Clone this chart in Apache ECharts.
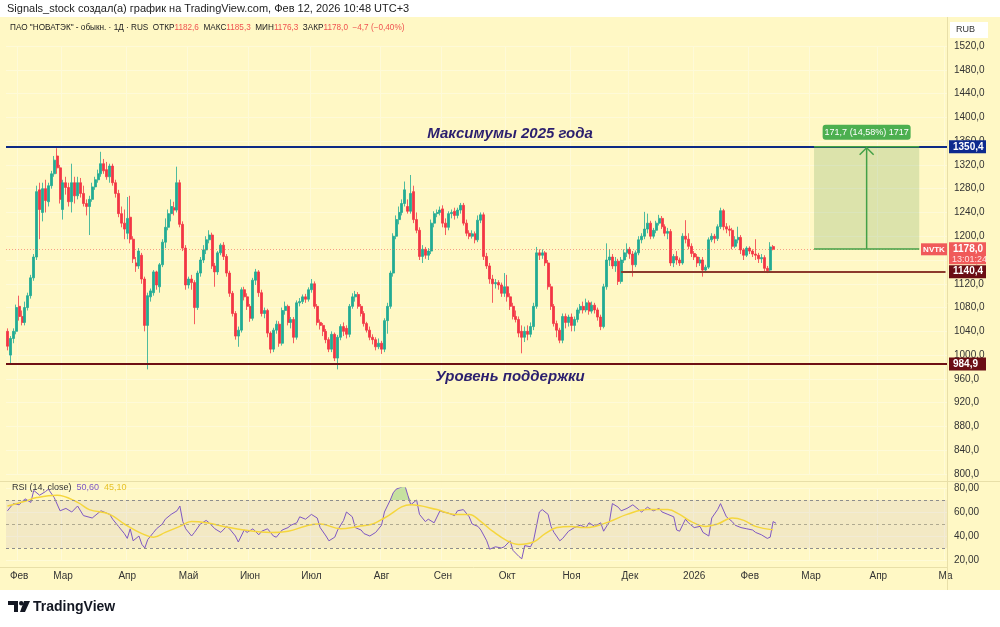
<!DOCTYPE html>
<html><head><meta charset="utf-8">
<script src="https://cdn.jsdelivr.net/npm/echarts@6/dist/echarts.min.js"></script>
<style>html,body{margin:0;padding:0;background:#fff;}#c{width:1000px;height:627px;}</style>
</head><body><div id="c"></div>
<script>
// ---- DATA ----
// daily candles [open, close, low, high], Jan-end 2025 .. Feb 12 2026
const candles = [
[1040,1015,1008,1045],[1000,1028,986,1032],[1028,1040,1020,1045],[1040,1080,1035,1085],[1082,1065,1058,1100],
[1065,1055,1050,1075],[1055,1080,1050,1090],[1080,1100,1075,1105],[1100,1130,1095,1135],[1130,1165,1125,1170],
[1165,1275,1160,1285],[1278,1245,1195,1290],[1240,1280,1225,1290],[1280,1260,1240,1295],[1258,1285,1250,1290],
[1285,1305,1280,1310],[1305,1328,1300,1335],[1335,1315,1305,1348],[1315,1262,1255,1320],[1245,1290,1228,1295],
[1290,1282,1270,1300],[1282,1258,1250,1290],[1258,1290,1240,1322],[1290,1268,1255,1300],[1268,1290,1262,1300],
[1290,1272,1265,1298],[1272,1255,1250,1285],[1255,1250,1235,1262],[1250,1262,1202,1268],[1262,1283,1258,1290],
[1283,1295,1278,1300],[1295,1305,1290,1312],[1305,1322,1300,1342],[1322,1310,1305,1330],[1312,1300,1295,1325],
[1300,1318,1290,1322],[1318,1290,1285,1322],[1290,1272,1265,1295],[1272,1238,1232,1278],[1238,1222,1215,1250],
[1222,1212,1195,1245],[1205,1230,1195,1266],[1232,1195,1188,1268],[1195,1162,1155,1200],[1155,1150,1140,1165],
[1150,1175,1145,1180],[1168,1128,1120,1172],[1128,1050,1040,1132],[1050,1100,976,1105],[1098,1108,1090,1112],
[1105,1140,1100,1143],[1140,1118,1110,1142],[1115,1152,1105,1155],[1152,1190,1148,1195],[1190,1215,1180,1230],
[1215,1238,1210,1245],[1238,1250,1225,1262],[1248,1244,1235,1258],[1244,1290,1240,1317],[1290,1220,1215,1295],
[1220,1180,1175,1225],[1180,1118,1110,1185],[1118,1128,1112,1132],[1128,1122,1110,1135],[1122,1080,1052,1126],
[1080,1138,1076,1142],[1138,1160,1132,1165],[1160,1177,1155,1185],[1177,1194,1170,1200],[1194,1202,1188,1210],
[1202,1150,1145,1206],[1150,1140,1115,1155],[1140,1172,1135,1175],[1172,1185,1168,1188],[1185,1166,1160,1190],
[1166,1138,1132,1170],[1138,1104,1098,1142],[1104,1070,1065,1108],[1070,1032,1026,1074],[1032,1042,1014,1048],
[1042,1110,1038,1114],[1110,1098,1092,1115],[1098,1082,1076,1104],[1082,1062,1056,1086],[1062,1126,1058,1130],
[1126,1140,1118,1145],[1140,1105,1098,1143],[1105,1070,1065,1110],[1070,1075,1062,1080],[1075,1037,1030,1078],
[1037,1010,1003,1040],[1010,1042,1005,1046],[1042,1052,1036,1058],[1052,1020,1014,1057],[1020,1075,1016,1080],
[1075,1082,1068,1090],[1082,1055,1050,1085],[1055,1060,1045,1064],[1060,1030,1020,1064],[1030,1088,1026,1092],
[1088,1090,1082,1096],[1090,1098,1086,1102],[1098,1094,1088,1103],[1094,1110,1090,1114],[1110,1120,1105,1128],
[1120,1082,1078,1124],[1082,1055,1050,1086],[1055,1050,1043,1060],[1050,1040,1032,1054],[1040,1026,1020,1044],
[1026,1010,1005,1030],[1010,1035,1005,1040],[1035,995,990,1038],[995,1030,976,1034],[1030,1048,1025,1052],
[1048,1040,1032,1055],[1045,1035,1028,1050],[1035,1082,1030,1086],[1082,1098,1078,1104],[1098,1102,1090,1108],
[1102,1082,1078,1106],[1082,1070,1065,1086],[1070,1053,1048,1074],[1053,1042,1038,1056],[1042,1030,1025,1048],
[1030,1026,1018,1035],[1026,1014,1008,1030],[1014,1020,1010,1028],[1020,1010,1002,1024],[1010,1058,1005,1062],
[1058,1082,1036,1088],[1082,1138,1078,1142],[1138,1200,1132,1205],[1200,1228,1195,1235],[1228,1240,1220,1250],
[1240,1255,1235,1262],[1255,1278,1250,1292],[1250,1242,1238,1262],[1242,1272,1238,1303],[1275,1228,1222,1285],
[1228,1210,1205,1240],[1210,1166,1160,1215],[1166,1178,1155,1185],[1178,1168,1162,1182],[1168,1175,1160,1180],
[1175,1222,1170,1228],[1222,1238,1215,1242],[1238,1240,1232,1245],[1240,1244,1235,1250],[1246,1222,1215,1252],
[1222,1215,1202,1230],[1215,1238,1210,1242],[1238,1240,1230,1245],[1242,1235,1228,1248],[1235,1244,1230,1248],
[1244,1252,1238,1256],[1252,1222,1218,1256],[1222,1205,1200,1228],[1205,1200,1195,1210],[1200,1204,1196,1210],
[1204,1194,1188,1208],[1194,1227,1190,1235],[1227,1236,1222,1240],[1236,1166,1160,1240],[1166,1150,1145,1172],
[1150,1128,1120,1155],[1128,1120,1088,1135],[1120,1122,1112,1128],[1122,1118,1110,1126],[1118,1104,1098,1122],
[1104,1115,1098,1138],[1115,1098,1090,1135],[1098,1082,1076,1104],[1082,1065,1060,1088],[1065,1060,1055,1075],
[1060,1037,1030,1065],[1040,1030,1003,1050],[1030,1040,1022,1048],[1040,1035,1025,1050],[1035,1048,1030,1055],
[1048,1082,1042,1088],[1082,1172,1078,1182],[1172,1168,1160,1178],[1168,1172,1162,1178],[1172,1155,1150,1175],
[1155,1115,1110,1160],[1115,1082,1076,1120],[1082,1053,1048,1086],[1053,1042,1030,1058],[1042,1025,1020,1046],
[1025,1065,1020,1070],[1065,1055,1045,1070],[1055,1064,1048,1068],[1064,1050,1040,1070],[1050,1060,1040,1065],
[1060,1076,1055,1080],[1076,1082,1070,1086],[1082,1076,1070,1090],[1076,1088,1072,1095],[1088,1074,1068,1092],
[1074,1084,1070,1090],[1084,1076,1070,1088],[1076,1064,1058,1080],[1064,1048,1042,1068],[1048,1115,1045,1120],
[1115,1160,1110,1188],[1160,1165,1150,1178],[1165,1150,1145,1170],[1150,1158,1140,1165],[1158,1124,1118,1162],
[1124,1160,1120,1165],[1160,1172,1155,1178],[1172,1178,1165,1188],[1178,1170,1162,1182],[1170,1152,1132,1175],
[1152,1172,1148,1176],[1172,1194,1168,1200],[1194,1200,1188,1205],[1200,1212,1195,1241],[1212,1222,1205,1238],
[1222,1200,1195,1226],[1200,1210,1196,1214],[1210,1222,1205,1226],[1222,1230,1218,1236],[1230,1216,1212,1234],
[1216,1205,1200,1220],[1205,1208,1195,1214],[1208,1155,1150,1212],[1155,1166,1148,1170],[1166,1160,1152,1175],
[1160,1155,1150,1164],[1155,1200,1152,1205],[1200,1195,1188,1227],[1195,1183,1178,1205],[1183,1171,1165,1188],
[1171,1165,1160,1175],[1165,1155,1148,1170],[1155,1160,1150,1165],[1160,1143,1132,1165],[1143,1148,1138,1152],
[1148,1194,1145,1198],[1194,1200,1190,1205],[1200,1196,1188,1204],[1196,1216,1192,1220],[1216,1243,1212,1248],
[1243,1216,1210,1246],[1216,1212,1205,1222],[1212,1210,1200,1218],[1210,1183,1178,1214],[1183,1194,1180,1200],
[1194,1198,1188,1216],[1198,1177,1170,1202],[1177,1168,1160,1180],[1168,1180,1165,1183],[1180,1175,1170,1183],
[1175,1170,1165,1178],[1170,1168,1160,1195],[1168,1162,1155,1172],[1162,1164,1155,1170],[1164,1146,1140,1168],
[1146,1142,1138,1150],[1143,1182,1140,1190],[1182.6,1178.0,1176.3,1185.3]
];
// RSI(14) readings [bar index, value]
const rsi = [[0,61],[2,67],[4,66],[6,71],[8,68],[9,78],[11,74],[13,77],[14,79],[16,72],[18,61],[20,63],[22,60],[24,65],[26,57],[29,55],[32,61],[35,58],[36,54],[38,48],[40,42],[41,38],[42,46],[43,36],[45,40],[46,33],[47,30],[48,37],[50,43],[51,46],[53,50],[54,54],[56,58],[58,61],[59,65],[60,52],[61,46],[63,40],[64,43],[66,50],[68,53],[69,51],[71,46],[73,43],[75,48],[76,46],[78,40],[79,35],[81,45],[82,43],[84,46],[86,41],[87,44],[89,46],[91,40],[92,39],[94,45],[96,47],[97,49],[99,51],[100,56],[102,54],[104,58],[106,55],[107,47],[109,40],[110,36],[112,39],[113,45],[115,53],[116,60],[118,56],[119,47],[121,45],[122,42],[124,40],[126,43],[128,49],[129,60],[131,70],[132,76],[133,79],[136,82],[137,74],[138,66],[140,70],[141,58],[143,52],[144,54],[146,51],[148,61],[149,60],[151,59],[153,57],[154,61],[156,62],[158,56],[159,50],[161,48],[162,45],[164,36],[165,29],[167,31],[169,30],[170,31],[172,36],[173,28],[175,23],[176,21],[177,32],[179,31],[180,36],[182,60],[183,62],[185,58],[186,48],[187,43],[189,36],[190,38],[192,44],[194,47],[196,49],[198,47],[199,51],[201,48],[203,51],[204,44],[206,52],[207,67],[209,64],[210,61],[212,63],[214,66],[216,62],[217,60],[219,64],[221,61],[223,63],[224,60],[226,58],[228,56],[229,45],[230,44],[232,54],[233,51],[235,47],[237,48],[238,43],[240,40],[241,55],[243,62],[244,67],[246,56],[248,52],[249,49],[251,47],[253,46],[255,45],[256,43],[258,41],[260,38],[261,39],[262,52],[262.9,50.6]];
// part of the RSI line above the 70 level (August), for the overbought fill
const rsiOverbought = [[131,70],[132,76],[133,79],[136,82],[137,74],[137.5,70]];
const rsiMA = [[0,65],[6,69],[10,72],[17,74],[24,68],[28,62],[35,58],[40,50],[46,42],[50,39],[54,43],[59,48],[63,52],[68,51],[74,48],[81,45],[90,43],[96,44],[103,49],[107,50],[114,46],[120,48],[125,50],[129,55],[138,66],[147,62],[153,58],[158,58],[162,52],[166,44],[171,36],[175,33],[180,35],[184,42],[188,47],[193,48],[197,47],[201,48],[206,52],[212,58],[219,62],[226,62],[230,58],[234,52],[239,48],[243,50],[248,55],[252,53],[256,48],[262,45.1]];
const tickIndex  = [4, 19, 41, 62, 83, 104, 128, 149, 171, 193, 213, 235, 254, 275, 298, 321];
const tickLabels = ['Фев','Мар','Апр','Май','Июн','Июл','Авг','Сен','Окт','Ноя','Дек','2026','Фев','Мар','Апр','Ма'];
const levelMax2025 = 1350.4, levelSupport = 984.9, levelLocal = 1140.4, lastPrice = 1178.0;
const measureFrom = 1178.7, measureLabel = '171,7 (14,58%) 1717';
const N_CAT = 322;
const categories = Array.from({length: N_CAT}, (_, i) => String(i));

// ---- CHART ----
const BG = '#fff8c5', GRID = '#fefad8';
const tickMap = {}; tickIndex.forEach((t, k) => tickMap[t] = tickLabels[k]);
const isTick = (i) => tickMap[i] !== undefined;
const fmt = (v, d) => v.toFixed(d).replace('.', ',');
const chart = echarts.init(document.getElementById('c'), null, {renderer: 'canvas'});
const FONT = '"Liberation Sans", Arial, sans-serif';
const option = {
  animation: false,
  backgroundColor: BG,
  textStyle: {fontFamily: FONT},
  grid: [{left: 6, width: 941, top: 46, height: 428}, {left: 6, width: 941, top: 488, height: 72}],
  xAxis: [
    {type: 'category', gridIndex: 0, data: categories, axisLine: {show: false}, axisTick: {show: false},
     axisLabel: {show: false}, splitLine: {show: true, interval: (i) => isTick(i), lineStyle: {color: GRID}}},
    {type: 'category', gridIndex: 1, data: categories, axisLine: {show: false}, axisTick: {show: false},
     axisLabel: {interval: (i) => isTick(i), formatter: (v, i) => tickMap[i] || '', color: '#333', fontSize: 10, margin: 11, fontFamily: FONT},
     splitLine: {show: true, interval: (i) => isTick(i), lineStyle: {color: GRID}}}
  ],
  yAxis: [
    {type: 'value', gridIndex: 0, position: 'right', min: 800, max: 1520, interval: 40,
     axisLine: {show: false}, axisTick: {show: false},
     axisLabel: {color: '#333', fontSize: 10, margin: 7, formatter: (v) => fmt(v, 1), fontFamily: FONT},
     splitLine: {lineStyle: {color: GRID}}},
    {type: 'value', gridIndex: 1, position: 'right', min: 20, max: 80, interval: 20,
     axisLine: {show: false}, axisTick: {show: false},
     axisLabel: {color: '#333', fontSize: 10, margin: 7, formatter: (v) => fmt(v, 2), fontFamily: FONT},
     splitLine: {lineStyle: {color: GRID}}}
  ],
  series: [
    {type: 'candlestick', xAxisIndex: 0, yAxisIndex: 0, data: candles, barWidth: 2.5,
     itemStyle: {color: '#22ab94', color0: '#f23645', borderColor: '#22ab94', borderColor0: '#f23645', borderWidth: 0.8},
     markLine: {silent: true, symbol: 'none', label: {show: false}, animation: false,
       data: [
         {yAxis: lastPrice, lineStyle: {color: '#ef5350', type: [1, 2], width: 1, opacity: 0.55}},
         {yAxis: levelMax2025, lineStyle: {color: '#0d2a86', type: 'solid', width: 2}},
         {yAxis: levelSupport, lineStyle: {color: '#6e1014', type: 'solid', width: 2}},
         [{coord: [210, levelLocal], lineStyle: {color: '#8c3a2c', type: 'solid', width: 2}}, {coord: [N_CAT - 1, levelLocal]}]
       ]}},
    {type: 'line', xAxisIndex: 1, yAxisIndex: 1, data: rsiOverbought, symbol: 'none', silent: true,
     lineStyle: {opacity: 0}, areaStyle: {origin: 70, color: 'rgba(76,175,80,0.45)'}},
    {type: 'line', xAxisIndex: 1, yAxisIndex: 1, data: rsi, symbol: 'none',
     lineStyle: {color: '#7e57c2', width: 1},
     markArea: {silent: true, itemStyle: {color: 'rgba(126,87,194,0.09)'}, data: [[{yAxis: 30}, {yAxis: 70}]]},
     markLine: {silent: true, symbol: 'none', label: {show: false},
       lineStyle: {color: '#8d8d8d', type: [3, 3], width: 1},
       data: [{yAxis: 70}, {yAxis: 50, lineStyle: {color: '#b0aa90', type: [3, 3]}}, {yAxis: 30}]}},
    {type: 'line', xAxisIndex: 1, yAxisIndex: 1, data: rsiMA, symbol: 'none', smooth: 0.4,
     lineStyle: {color: '#f5d63d', width: 1.5}}
  ]
};
chart.setOption(option);

const P = (i, v) => chart.convertToPixel({gridIndex: 0}, [i, v]);
const yP = (v) => P(0, v)[1];
const xP = (i) => P(i, 1000)[0];
const AX = 949, AXW = 37;
const g = [];
// white header and footer strips
g.push({type: 'rect', shape: {x: 0, y: 0, width: 1000, height: 17}, style: {fill: '#ffffff'}, z: 50});
g.push({type: 'rect', shape: {x: 0, y: 590, width: 1000, height: 37}, style: {fill: '#ffffff'}, z: 50});
g.push({type: 'text', x: 7, y: 9, z: 51, style: {text: 'Signals_stock создал(а) график на TradingView.com, Фев 12, 2026 10:48 UTC+3', font: '11px ' + FONT, fill: '#222', verticalAlign: 'middle'}});
g.push({type: 'text', x: 10, y: 28, z: 51, style: {
  text: 'ПАО "НОВАТЭК" - обыкн. · 1Д · RUS  ОТКР{r|1182,6}  МАКС{r|1185,3}  МИН{r|1176,3}  ЗАКР{r|1178,0}  {r|−4,7 (−0,40%)}',
  font: '8.2px ' + FONT, fill: '#222', verticalAlign: 'middle', rich: {r: {fill: '#ef5350', font: '8.2px ' + FONT}}}});
// panel separators
g.push({type: 'line', shape: {x1: 947.5, y1: 17, x2: 947.5, y2: 590}, style: {stroke: '#e8dfa8', lineWidth: 1}, z: 5});
g.push({type: 'line', shape: {x1: 0, y1: 481.5, x2: 1000, y2: 481.5}, style: {stroke: '#e8dfa8', lineWidth: 1}, z: 5});
g.push({type: 'line', shape: {x1: 0, y1: 567.5, x2: 947, y2: 567.5}, style: {stroke: '#e8dfa8', lineWidth: 1}, z: 5});
// RUB box
g.push({type: 'rect', shape: {x: 950, y: 22, width: 38, height: 16}, style: {fill: '#ffffff'}, z: 60});
g.push({type: 'text', x: 956, y: 30, z: 61, style: {text: 'RUB', font: '9px ' + FONT, fill: '#333', verticalAlign: 'middle'}});
// price tags
function tag(v, txt, fill) {
  const y = yP(v);
  g.push({type: 'rect', shape: {x: AX, y: y - 6.5, width: AXW, height: 13}, style: {fill: fill}, z: 60});
  g.push({type: 'text', x: AX + 4, y: y, z: 61, style: {text: txt, font: 'bold 10px ' + FONT, fill: '#fff', verticalAlign: 'middle'}});
}
tag(levelMax2025, fmt(levelMax2025, 1), '#0d2a8e');
tag(levelLocal, fmt(levelLocal, 1), '#6b0d14');
tag(levelSupport, fmt(levelSupport, 1), '#6b0d14');
{
  const y = yP(lastPrice);
  g.push({type: 'rect', shape: {x: AX, y: y - 7, width: AXW, height: 22}, style: {fill: '#f05a5a'}, z: 60});
  g.push({type: 'text', x: AX + 4, y: y, z: 61, style: {text: fmt(lastPrice, 1), font: 'bold 10px ' + FONT, fill: '#fff', verticalAlign: 'middle'}});
  g.push({type: 'text', x: AX + 3, y: y + 10, z: 61, style: {text: '13:01:24', font: '9px ' + FONT, fill: '#ffe0e0', verticalAlign: 'middle'}});
  g.push({type: 'rect', shape: {x: 921, y: y - 6, width: 26, height: 12}, style: {fill: '#f05a5a'}, z: 60});
  g.push({type: 'text', x: 934, y: y, z: 61, style: {text: 'NVTK', font: 'bold 8px ' + FONT, fill: '#fff', align: 'center', verticalAlign: 'middle'}});
}
// annotations
{
  const a = P(172.3, 1372), b = P(172.3, 963);
  g.push({type: 'text', x: a[0], y: a[1], z: 40, style: {text: 'Максимумы 2025 года', font: 'italic bold 15px ' + FONT, fill: '#2b1f6e', align: 'center', verticalAlign: 'middle'}});
  g.push({type: 'text', x: b[0], y: b[1], z: 40, style: {text: 'Уровень поддержки', font: 'italic bold 15px ' + FONT, fill: '#2b1f6e', align: 'center', verticalAlign: 'middle'}});
}
// measurement box
{
  const tl = P(276, levelMax2025), br = P(312, measureFrom);
  const xm = xP(294);
  g.push({type: 'rect', shape: {x: tl[0], y: tl[1], width: br[0] - tl[0], height: br[1] - tl[1]}, style: {fill: 'rgba(46,125,50,0.17)'}, z: 20});
  g.push({type: 'line', shape: {x1: tl[0], y1: tl[1], x2: br[0], y2: tl[1]}, style: {stroke: '#43a047', lineWidth: 1.5}, z: 21});
  g.push({type: 'line', shape: {x1: tl[0], y1: br[1], x2: br[0], y2: br[1]}, style: {stroke: '#43a047', lineWidth: 1.5}, z: 21});
  g.push({type: 'line', shape: {x1: xm, y1: br[1], x2: xm, y2: tl[1] + 1}, style: {stroke: '#43a047', lineWidth: 1.5}, z: 21});
  g.push({type: 'polyline', shape: {points: [[xm - 7, tl[1] + 8], [xm, tl[1] + 1], [xm + 7, tl[1] + 8]]}, style: {stroke: '#43a047', lineWidth: 1.5, fill: null}, z: 21});
  g.push({type: 'rect', shape: {x: xm - 44, y: tl[1] - 22, width: 88, height: 15, r: 3}, style: {fill: '#4caf50'}, z: 22});
  g.push({type: 'text', x: xm, y: tl[1] - 14.5, z: 23, style: {text: measureLabel, font: '9px ' + FONT, fill: '#fff', align: 'center', verticalAlign: 'middle'}});
}
// RSI legend
g.push({type: 'text', x: 12, y: 488, z: 40, style: {text: 'RSI (14, close)  {p|50,60}  {y|45,10}', font: '9px ' + FONT, fill: '#333', verticalAlign: 'middle',
  rich: {p: {fill: '#7e57c2', font: '9px ' + FONT}, y: {fill: '#e6c229', font: '9px ' + FONT}}}});
// TradingView logo
g.push({type: 'polygon', z: 55, shape: {points: [[8, 601], [18, 601], [18, 612], [14, 612], [14, 605], [8, 605]]}, style: {fill: '#131722'}});
g.push({type: 'circle', z: 55, shape: {cx: 21.2, cy: 603.2, r: 2.2}, style: {fill: '#131722'}});
g.push({type: 'polygon', z: 55, shape: {points: [[24, 601], [30, 601], [25, 612], [20, 612]]}, style: {fill: '#131722'}});
g.push({type: 'text', x: 33, y: 607, z: 55, style: {text: 'TradingView', font: 'bold 14px ' + FONT, fill: '#131722', verticalAlign: 'middle'}});
chart.setOption({graphic: {elements: g}});
</script></body></html>
